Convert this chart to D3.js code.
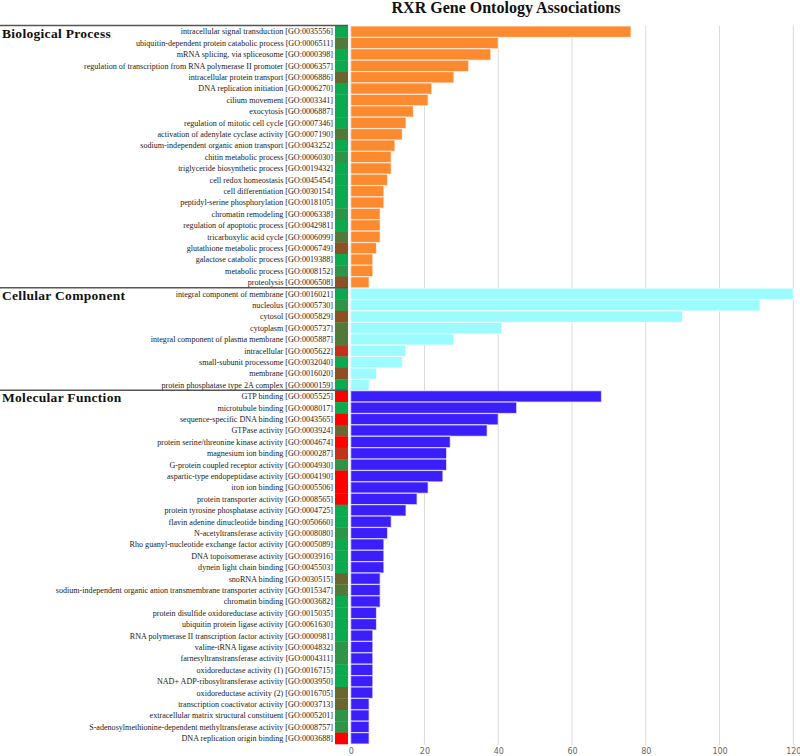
<!DOCTYPE html>
<html><head><meta charset="utf-8">
<script src="https://cdn.jsdelivr.net/npm/d3@7"></script>
<style>body{margin:0;background:#fff;} svg{display:block;}</style>
</head><body>
<script>
const title = "RXR Gene Ontology Associations";
const sections = ["Biological Process", "Cellular Component", "Molecular Function"];

const bpLabels = [
"intracellular signal transduction [GO:0035556]",
"ubiquitin-dependent protein catabolic process [GO:0006511]",
"mRNA splicing, via spliceosome [GO:0000398]",
"regulation of transcription from RNA polymerase II promoter [GO:0006357]",
"intracellular protein transport [GO:0006886]",
"DNA replication initiation [GO:0006270]",
"cilium movement [GO:0003341]",
"exocytosis [GO:0006887]",
"regulation of mitotic cell cycle [GO:0007346]",
"activation of adenylate cyclase activity [GO:0007190]",
"sodium-independent organic anion transport [GO:0043252]",
"chitin metabolic process [GO:0006030]",
"triglyceride biosynthetic process [GO:0019432]",
"cell redox homeostasis [GO:0045454]",
"cell differentiation [GO:0030154]",
"peptidyl-serine phosphorylation [GO:0018105]",
"chromatin remodeling [GO:0006338]",
"regulation of apoptotic process [GO:0042981]",
"tricarboxylic acid cycle [GO:0006099]",
"glutathione metabolic process [GO:0006749]",
"galactose catabolic process [GO:0019388]",
"metabolic process [GO:0008152]",
"proteolysis [GO:0006508]"];
const bpValues = [76,40,38,32,28,22,21,17,15,14,12,11,11,10,9,9,8,8,8,7,6,6,5];
const bpEvidence = ["g","o","g","g","k","g","g","g","g","o","g","m","g","g","g","g","m","g","o","b","g","m","b"];

const ccLabels = [
"integral component of membrane [GO:0016021]",
"nucleolus [GO:0005730]",
"cytosol [GO:0005829]",
"cytoplasm [GO:0005737]",
"integral component of plasma membrane [GO:0005887]",
"intracellular [GO:0005622]",
"small-subunit processome [GO:0032040]",
"membrane [GO:0016020]",
"protein phosphatase type 2A complex [GO:0000159]"];
const ccValues = [120,111,90,41,28,15,14,7,5];
const ccEvidence = ["g","m","b","o","o","d","g","b","g"];

const mfLabels = [
"GTP binding [GO:0005525]",
"microtubule binding [GO:0008017]",
"sequence-specific DNA binding [GO:0043565]",
"GTPase activity [GO:0003924]",
"protein serine/threonine kinase activity [GO:0004674]",
"magnesium ion binding [GO:0000287]",
"G-protein coupled receptor activity [GO:0004930]",
"aspartic-type endopeptidase activity [GO:0004190]",
"iron ion binding [GO:0005506]",
"protein transporter activity [GO:0008565]",
"protein tyrosine phosphatase activity [GO:0004725]",
"flavin adenine dinucleotide binding [GO:0050660]",
"N-acetyltransferase activity [GO:0008080]",
"Rho guanyl-nucleotide exchange factor activity [GO:0005089]",
"DNA topoisomerase activity [GO:0003916]",
"dynein light chain binding [GO:0045503]",
"snoRNA binding [GO:0030515]",
"sodium-independent organic anion transmembrane transporter activity [GO:0015347]",
"chromatin binding [GO:0003682]",
"protein disulfide oxidoreductase activity [GO:0015035]",
"ubiquitin protein ligase activity [GO:0061630]",
"RNA polymerase II transcription factor activity [GO:0000981]",
"valine-tRNA ligase activity [GO:0004832]",
"farnesyltranstransferase activity [GO:0004311]",
"oxidoreductase activity (1) [GO:0016715]",
"NAD+ ADP-ribosyltransferase activity [GO:0003950]",
"oxidoreductase activity (2) [GO:0016705]",
"transcription coactivator activity [GO:0003713]",
"extracellular matrix structural constituent [GO:0005201]",
"S-adenosylmethionine-dependent methyltransferase activity [GO:0008757]",
"DNA replication origin binding [GO:0003688]"];
const mfValues = [68,45,40,37,27,26,26,25,21,18,15,11,10,9,9,9,8,8,8,7,7,6,6,6,6,6,6,5,5,5,5];
const mfEvidence = ["r","g","r","k","r","d","m","r","r","r","g","g","m","g","g","g","k","o","g","g","g","g","m","m","g","g","k","k","m","m","r"];

const xTicks = [0,20,40,60,80,100,120];

const sectionColors = ["#fe8a30", "#9cfbfe", "#3b1ffa"];
const evidenceColors = {g:"#0ca94f", m:"#2e9447", o:"#52793a", k:"#6a6630", b:"#8d4f24", r:"#ff0000", d:"#c5301b"};

// build rows
const groups = [
  {name: sections[0], labels: bpLabels, values: bpValues, ev: bpEvidence},
  {name: sections[1], labels: ccLabels, values: ccValues, ev: ccEvidence},
  {name: sections[2], labels: mfLabels, values: mfValues, ev: mfEvidence}
];
const rows = [];
groups.forEach((g, gi) => g.labels.forEach((l, i) => rows.push({key: gi + "_" + i, label: l, value: g.values[i], ev: g.ev[i], gi, first: i === 0})));

const W = 800, H = 756;
const svg = d3.select("body").append("svg").attr("width", W).attr("height", H);

const y = d3.scaleBand().domain(rows.map(r => r.key)).range([26, 744]).padding(0);
const x = d3.scaleLinear().domain([0, 120]).range([350.7, 793.3]);

// gridlines
svg.append("g").selectAll("line").data(xTicks).join("line")
  .attr("x1", d => x(d)).attr("x2", d => x(d))
  .attr("y1", 26).attr("y2", 745)
  .attr("stroke", "#d9d9d9").attr("stroke-width", 1);

// axis tick labels
const axis = d3.axisBottom(x).tickValues(xTicks).tickSize(0).tickPadding(3);
const ag = svg.append("g").attr("transform", "translate(0,745)").call(axis);
ag.select(".domain").remove();
ag.selectAll("text").attr("fill", "#666").attr("font-size", "8px").attr("font-family", "DejaVu Sans, sans-serif");

// bars
svg.append("g").selectAll("rect").data(rows).join("rect")
  .attr("x", x(0)).attr("y", d => y(d.key))
  .attr("width", d => x(d.value) - x(0))
  .attr("height", y.bandwidth())
  .attr("fill", d => sectionColors[d.gi])
  .attr("stroke", "rgba(255,255,255,0.65)").attr("stroke-width", 1.2);

// evidence cells
svg.append("g").selectAll("rect").data(rows).join("rect")
  .attr("x", 335).attr("y", d => y(d.key))
  .attr("width", 13).attr("height", y.bandwidth() + 0.3)
  .attr("fill", d => evidenceColors[d.ev]);

// row labels
svg.append("g").selectAll("text").data(rows).join("text")
  .attr("x", 333).attr("y", d => y(d.key) + y.bandwidth() / 2 + 2.8)
  .attr("text-anchor", "end")
  .attr("font-family", "Liberation Serif, serif").attr("font-size", "8.1px")
  .attr("fill", "#222")
  .text(d => d.label);

// section separators and names
const firsts = rows.filter(r => r.first);
svg.append("g").selectAll("line").data(firsts).join("line")
  .attr("x1", 0).attr("x2", 348)
  .attr("y1", d => y(d.key) - 0.5).attr("y2", d => y(d.key) - 0.5)
  .attr("stroke", "#555").attr("stroke-width", 1.5);
svg.append("g").selectAll("text").data(firsts).join("text")
  .attr("x", 2).attr("y", d => y(d.key) + 11.5)
  .attr("font-family", "Liberation Serif, serif").attr("font-weight", "bold").attr("font-size", "13.5px")
  .attr("letter-spacing", "0.3px")
  .attr("fill", "#111")
  .text(d => groups[d.gi].name);

// title
svg.append("text").attr("x", 506).attr("y", 12.5)
  .attr("text-anchor", "middle")
  .attr("font-family", "Liberation Serif, serif").attr("font-weight", "bold").attr("font-size", "16px")
  .attr("fill", "#111")
  .text(title);
</script>
</body></html>
